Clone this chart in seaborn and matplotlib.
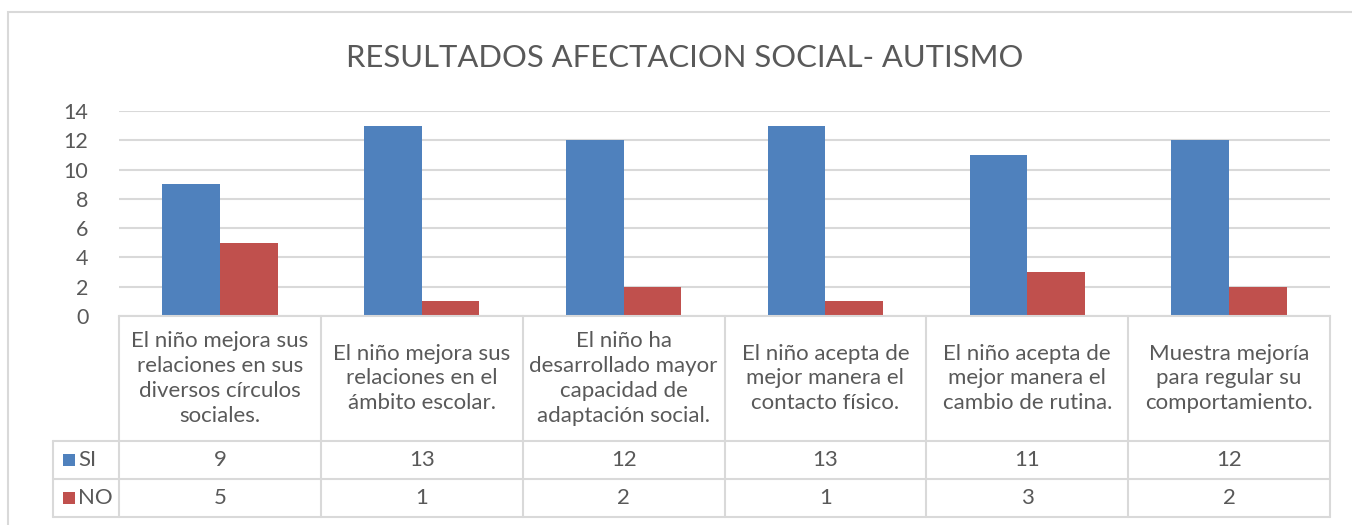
import matplotlib
matplotlib.use("Agg")
import matplotlib.pyplot as plt
import matplotlib.transforms as mtransforms
from matplotlib.lines import Line2D
from matplotlib.patches import Rectangle
import seaborn as sns
import pandas as pd

categories = [
    "El niño mejora sus\nrelaciones en sus\ndiversos círculos\nsociales.",
    "El niño mejora sus\nrelaciones en el\námbito escolar.",
    "El niño ha\ndesarrollado mayor\ncapacidad de\nadaptación social.",
    "El niño acepta de\nmejor manera el\ncontacto físico.",
    "El niño acepta de\nmejor manera el\ncambio de rutina.",
    "Muestra mejoría\npara regular su\ncomportamiento.",
]
series_names = ["SI", "NO"]
si_values = [9, 13, 12, 13, 11, 12]
no_values = [5, 1, 2, 1, 3, 2]
y_ticks = [0, 2, 4, 6, 8, 10, 12, 14]
title = "RESULTADOS AFECTACION SOCIAL- AUTISMO"

colors = ["#4F81BD", "#C0504D"]
text_color = "#595959"
grid_color = "#D9D9D9"

sns.set_theme(style="white")
plt.rcParams["font.family"] = ["Lato", "DejaVu Sans"]

W, H = 1352, 525
fig = plt.figure(figsize=(W / 100, H / 100), dpi=100)
ax = fig.add_axes([119 / W, 1 - 316 / H, (1330 - 119) / W, (316 - 111) / H])

df = pd.DataFrame({
    "cat": list(range(len(categories))) * 2,
    "val": si_values + no_values,
    "serie": [series_names[0]] * len(categories) + [series_names[1]] * len(categories),
})
sns.barplot(data=df, x="cat", y="val", hue="serie", hue_order=series_names,
            palette=colors, saturation=1, width=0.572, dodge=True,
            legend=False, ax=ax, linewidth=0)

ax.set_xlim(-0.5, len(categories) - 0.5)
ax.set_ylim(0, 14)
ax.set_yticks(y_ticks)
ax.set_yticklabels([str(t) for t in y_ticks])
ax.tick_params(axis="y", length=0, pad=22, labelsize=15.5, labelcolor=text_color)
ax.set_xticks([])
ax.set_xlabel("")
ax.set_ylabel("")
for s in ["top", "right", "left"]:
    ax.spines[s].set_visible(False)
ax.spines["bottom"].set_color(grid_color)
ax.spines["bottom"].set_linewidth(1.5)
ax.yaxis.grid(True, color=grid_color, linewidth=1.5)
ax.set_axisbelow(True)

# Chart title
fig.text(684.5 / W, 1 - 58 / H, title, ha="center", va="center",
         fontsize=22.3, color=text_color)

# Chart border
fig.add_artist(Rectangle((8 / W, -0.1), 2, 1.1 - 12 / H, transform=fig.transFigure,
                         fill=False, edgecolor=grid_color, linewidth=1.5))

# Data table
bt = mtransforms.blended_transform_factory(ax.transData, fig.transFigure)
ft = fig.transFigure
y_top, y_head, y_r1, y_r2 = 316, 441, 479, 517
fy = lambda y: 1 - y / H
n = len(categories)
lw = 1.5
for i in range(n + 1):
    fig.add_artist(Line2D([i - 0.5, i - 0.5], [fy(y_top), fy(y_r2)], transform=bt,
                          color=grid_color, linewidth=lw))
for y in (y_head, y_r1, y_r2):
    fig.add_artist(Line2D([53 / W, 1330 / W], [fy(y), fy(y)], transform=ft,
                          color=grid_color, linewidth=lw))
fig.add_artist(Line2D([53 / W, 53 / W], [fy(y_head), fy(y_r2)], transform=ft,
                      color=grid_color, linewidth=lw))

fs = 16
for i, cat in enumerate(categories):
    fig.text(i, fy((y_top + y_head) / 2), cat, transform=bt, ha="center", va="center",
             fontsize=fs, color=text_color, linespacing=1.3)
    fig.text(i, fy((y_head + y_r1) / 2), str(si_values[i]), transform=bt, ha="center",
             va="center", fontsize=fs, color=text_color)
    fig.text(i, fy((y_r1 + y_r2) / 2), str(no_values[i]), transform=bt, ha="center",
             va="center", fontsize=fs, color=text_color)

for j, (name, c) in enumerate(zip(series_names, colors)):
    yc = fy(((y_head + y_r1) / 2) if j == 0 else ((y_r1 + y_r2) / 2))
    fig.add_artist(Rectangle((63 / W, yc - 6 / H), 12 / W, 12 / H, transform=ft,
                             facecolor=c, edgecolor="none"))
    fig.text(78 / W, yc, name, transform=ft, ha="left", va="center",
             fontsize=fs, color=text_color)

fig.savefig("out.png", dpi=100)
